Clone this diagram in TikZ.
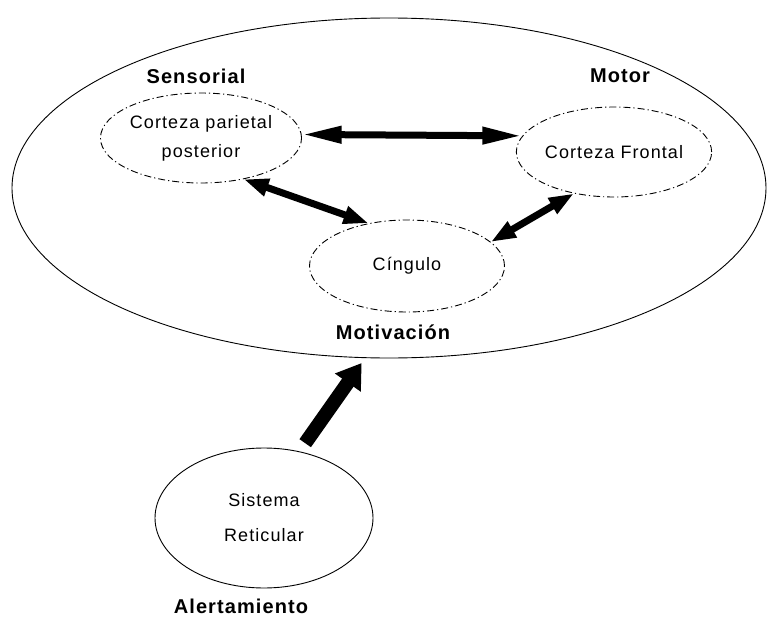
\documentclass[tikz,border=0pt]{standalone}
\usepackage{fontspec}
\setmainfont{Liberation Sans}
\usetikzlibrary{shapes.geometric, arrows.meta, positioning, calc}

\begin{document}
\begin{tikzpicture}[
        x=1pt, y=-1pt,
        area/.style={ellipse, draw, dash pattern=on 7pt off 3pt on 1.2pt off 3pt, line width=0.9pt, inner sep=0pt, align=center, font=\fontsize{18}{29}\selectfont\addfontfeature{LetterSpace=6}},
        sistema/.style={ellipse, draw, line width=0.9pt, inner sep=0pt, align=center, font=\fontsize{18}{35}\selectfont\addfontfeature{LetterSpace=6}},
        tag/.style={font=\fontsize{20}{22}\selectfont\bfseries\addfontfeature{LetterSpace=5.5}},
        link/.style={{Triangle[length=25pt,width=17pt]}-{Triangle[length=25pt,width=17pt]}, line width=7pt},
        longlink/.style={{Triangle[length=40pt,width=16pt]}-{Triangle[length=40pt,width=16pt]}, line width=7pt},
        bigarrow/.style={-{Triangle[length=24pt,width=30pt]}, line width=14pt}
    ]
        \useasboundingbox (0,0) rectangle (780,621);

        % Outer brain region
        \node[ellipse, draw, line width=0.9pt, minimum width=754pt, minimum height=340pt] (cerebro) at (389,188) {};

        % Cortical areas
        \node[area, minimum width=196pt, minimum height=90pt] (parietal) at (201,138) {Corteza parietal\\posterior};
        \node[area, minimum width=195pt, minimum height=90pt] (frontal) at (614,152) {Corteza Frontal};
        \node[area, minimum width=195pt, minimum height=92pt] (cingulo) at (407,266) {C\'ingulo};

        % Reticular system
        \node[sistema, minimum width=218pt, minimum height=140pt] (reticular) at (264,518) {Sistema\\Reticular};

        % Labels
        \node[tag] (sensorial) at (196,76) {Sensorial};
        \node[tag] (motor) at (620,76) {Motor};
        \node[tag] (motivacion) at (393,332) {Motivaci\'on};
        \node[tag] (alerta) at (241,606) {Alertamiento};

        % Arrows
        \draw[longlink] (parietal.2) -- (frontal.170);
        \draw[link] (parietal.-44) -- (cingulo.132);
        \draw[link] (frontal.-134) -- (cingulo.16);
        \draw[bigarrow, shorten <=10pt, shorten >=6pt] (reticular.62) -- (cerebro.-98);
    \end{tikzpicture}
\end{document}
